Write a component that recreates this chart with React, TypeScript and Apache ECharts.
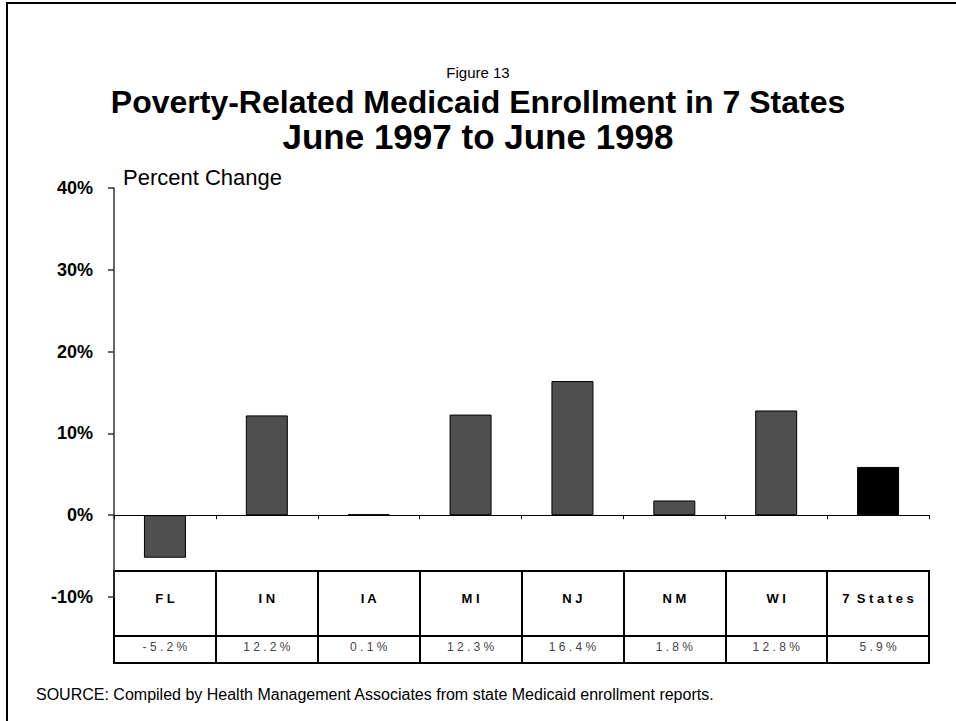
import React, { useEffect, useRef } from "react";
import * as echarts from "echarts";

const categories = ["FL", "IN", "IA", "MI", "NJ", "NM", "WI", "7 States"];
const values = [-5.2, 12.2, 0.1, 12.3, 16.4, 1.8, 12.8, 5.9];
const yMin = -10;
const yMax = 40;
const yInterval = 10;

const FONT = "'Liberation Sans', Arial, Helvetica, sans-serif";

function spaced(s: string): string {
  return s
    .split(" ")
    .map((w) => w.split("").join(" "))
    .join("  ");
}

export default function App() {
  const ref = useRef<HTMLDivElement>(null);
  useEffect(() => {
    if (!ref.current) return;
    const chart = echarts.init(ref.current, null, { renderer: "svg" });
    const left = 114;
    const right = 27;
    chart.setOption({
      animation: false,
      backgroundColor: "#fff",
      textStyle: { fontFamily: FONT },
      title: [
        {
          text: "Figure 13",
          left: "center",
          top: 65,
          padding: 0,
          textStyle: { fontSize: 15, lineHeight: 15, fontWeight: "normal", color: "#000", fontFamily: FONT },
        },
        {
          text: "Poverty-Related Medicaid Enrollment in 7 States",
          left: "center",
          top: 86,
          padding: 0,
          textStyle: { fontSize: 32, lineHeight: 32, fontWeight: "bold", color: "#000", fontFamily: FONT },
        },
        {
          text: "June 1997 to June 1998",
          left: "center",
          top: 119,
          padding: 0,
          textStyle: { fontSize: 35, lineHeight: 35, fontWeight: "bold", color: "#000", fontFamily: FONT },
        },
        {
          text: "SOURCE: Compiled by Health Management Associates from state Medicaid enrollment reports.",
          left: 36,
          top: 686,
          padding: 0,
          textStyle: { fontSize: 16, lineHeight: 16, fontWeight: "normal", color: "#000", fontFamily: FONT },
        },
      ],
      graphic: [
        {
          type: "rect",
          shape: { x: 7, y: 3, width: 1000, height: 800 },
          style: { fill: "none", stroke: "#000", lineWidth: 2 },
          silent: true,
        },
      ],
      grid: [
        { left, right, top: 188, height: 409, containLabel: false },
        { left, right, top: 571, height: 65, show: true, borderColor: "#000", borderWidth: 2, backgroundColor: "transparent" },
        { left, right, top: 636, height: 27, show: true, borderColor: "#000", borderWidth: 2, backgroundColor: "transparent" },
      ],
      xAxis: [
        {
          type: "category",
          gridIndex: 0,
          data: categories,
          axisLine: { onZero: true, lineStyle: { color: "#000", width: 1 } },
          axisTick: { show: true, length: 4, lineStyle: { color: "#000" } },
          axisLabel: { show: false },
          splitLine: { show: false },
        },
        {
          type: "category",
          gridIndex: 1,
          data: categories,
          position: "top",
          axisLine: { show: false },
          axisTick: { show: false },
          splitLine: { show: true, lineStyle: { color: "#000", width: 2 } },
          axisLabel: {
            inside: true,
            margin: 27,
            verticalAlign: "middle",
            fontSize: 13,
            fontWeight: "bold",
            color: "#000",
            fontFamily: FONT,
            formatter: (v: string) => spaced(v),
          },
        },
        {
          type: "category",
          gridIndex: 2,
          data: categories,
          position: "top",
          axisLine: { show: false },
          axisTick: { show: false },
          splitLine: { show: true, lineStyle: { color: "#000", width: 2 } },
          axisLabel: {
            inside: true,
            margin: 11,
            verticalAlign: "middle",
            fontSize: 12,
            fontWeight: "normal",
            color: "#444",
            fontFamily: FONT,
            formatter: (_v: string, i: number) => spaced(values[i].toFixed(1) + "%"),
          },
        },
      ],
      yAxis: [
        {
          type: "value",
          gridIndex: 0,
          min: yMin,
          max: yMax,
          interval: yInterval,
          name: "Percent Change",
          nameLocation: "end",
          nameGap: 0,
          nameTextStyle: {
            align: "left",
            verticalAlign: "bottom",
            fontSize: 22,
            color: "#000",
            fontFamily: FONT,
            padding: [0, 0, 0, 9],
          },
          axisLine: { show: true, lineStyle: { color: "#333", width: 1.5 } },
          axisTick: { show: true, length: 6, lineStyle: { color: "#333", width: 1.5 } },
          axisLabel: {
            margin: 21,
            fontSize: 18,
            fontWeight: "bold",
            color: "#000",
            fontFamily: FONT,
            formatter: "{value}%",
          },
          splitLine: { show: false },
        },
        { type: "value", gridIndex: 1, show: false, min: 0, max: 1 },
        { type: "value", gridIndex: 2, show: false, min: 0, max: 1 },
      ],
      series: [
        {
          type: "bar",
          xAxisIndex: 0,
          yAxisIndex: 0,
          barWidth: 42,
          data: values.map((v, i) => ({
            value: v,
            itemStyle: {
              color: i === values.length - 1 ? "#000" : "#4f4f4f",
              borderColor: "#000",
              borderWidth: 1,
            },
          })),
          label: { show: false },
        },
      ],
    });
    return () => chart.dispose();
  }, []);
  return (
    <div
      ref={ref}
      style={{ position: "absolute", left: 0, top: 0, width: 956, height: 721, background: "#fff" }}
    />
  );
}
